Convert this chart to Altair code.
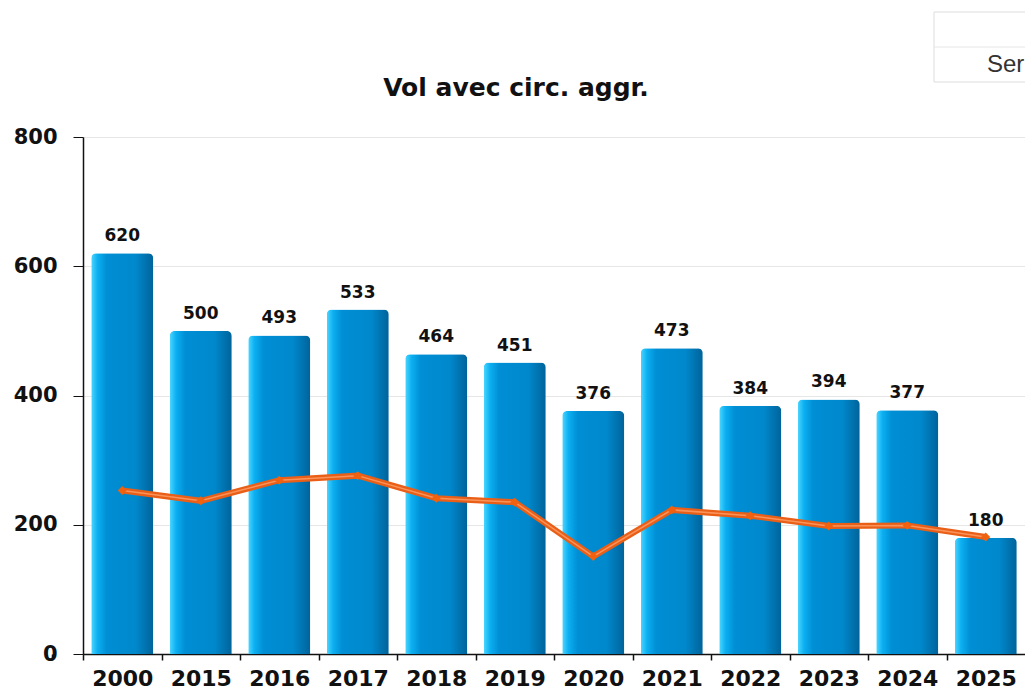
import altair as alt
import pandas as pd

years = ["2000", "2015", "2016", "2017", "2018", "2019", "2020", "2021", "2022", "2023", "2024", "2025"]
bar_values = [620, 500, 493, 533, 464, 451, 376, 473, 384, 394, 377, 180]
line_values = [253, 237, 269, 276, 241, 235, 151, 223, 214, 198, 199, 181]
y_ticks = [0, 200, 400, 600, 800]
title_text = "Vol avec circ. aggr."
legend_text = "Series"

df = pd.DataFrame({"year": years, "value": bar_values, "line": line_values})
FONT = "DejaVu Sans"

x_enc = alt.X("year:N", sort=years, title=None,
              scale=alt.Scale(paddingInner=0.21, paddingOuter=0.105),
              axis=alt.Axis(labelAngle=0, labelFont=FONT, labelFontWeight="bold",
                            labelFontSize=22, labelColor="#111", labelPadding=8,
                            tickOffset=-39, labelOffset=39, tickExtra=True,
                            tickSize=6, tickColor="#111", tickWidth=1.5,
                            domainColor="#111", domainWidth=1.5, grid=False))
y_scale = alt.Scale(domain=[0, 800], nice=False)
y_axis = alt.Axis(values=y_ticks, labelFont=FONT, labelFontWeight="bold",
                  labelFontSize=21, labelColor="#111", labelPadding=16,
                  tickSize=10, tickColor="#111", domainColor="#111", domainWidth=1.5,
                  grid=True, gridColor="#e6e6e6", gridWidth=1)

base = alt.Chart(df)

grad = alt.Gradient(gradient="linear", x1=0, x2=1, y1=0, y2=0, stops=[
    alt.GradientStop(color="#4dd6ff", offset=0),
    alt.GradientStop(color="#0cb0f2", offset=0.1),
    alt.GradientStop(color="#008ed4", offset=0.25),
    alt.GradientStop(color="#0088cc", offset=0.72),
    alt.GradientStop(color="#00639a", offset=1),
])

bars = base.mark_bar(color=grad, cornerRadiusTopLeft=5, cornerRadiusTopRight=5).encode(
    x=x_enc,
    y=alt.Y("value:Q", scale=y_scale, axis=y_axis, title=None),
)

labels = base.mark_text(font=FONT, fontWeight="bold", fontSize=17, color="#111",
                        baseline="bottom", dy=-8).encode(
    x=alt.X("year:N", sort=years),
    y=alt.Y("value:Q", scale=y_scale),
    text="value:Q",
)

line_outer = base.mark_line(color="#e95f17", strokeWidth=6).encode(
    x=alt.X("year:N", sort=years), y=alt.Y("line:Q", scale=y_scale))
line_inner = base.mark_line(color="#ffa06a", strokeWidth=1.5, opacity=0.8).encode(
    x=alt.X("year:N", sort=years), y=alt.Y("line:Q", scale=y_scale))
points = base.mark_point(filled=True, color="#f0620f", size=80, opacity=1, shape="diamond").encode(
    x=alt.X("year:N", sort=years), y=alt.Y("line:Q", scale=y_scale))

one = alt.Chart(pd.DataFrame({"t": [legend_text], "title": [title_text]}))
legend_box = one.mark_rect(fill="white", stroke="#dddddd", strokeWidth=1).encode(
    x=alt.value(851), x2=alt.value(980), y=alt.value(-125), y2=alt.value(-55))
legend_rule = one.mark_rule(color="#e6e6e6", strokeWidth=1).encode(
    x=alt.value(851), x2=alt.value(980), y=alt.value(-90))
legend_label = one.mark_text(font="Liberation Sans", fontSize=24, color="#333",
                             align="left", baseline="middle").encode(
    x=alt.value(904), y=alt.value(-72), text="t:N")
title_mark = one.mark_text(font=FONT, fontWeight="bold", fontSize=25, color="#111",
                           align="center", baseline="middle").encode(
    x=alt.value(433), y=alt.value(-49), text="title:N")

chart = alt.layer(bars, labels, line_outer, line_inner, points,
                  legend_box, legend_rule, legend_label, title_mark).properties(
    width=942, height=517,
    autosize=alt.AutoSizeParams(type="none"),
    padding={"left": 83, "top": 137, "right": 0, "bottom": 34},
).configure_view(stroke=None)

chart.save("out.html", embed_options={"renderer": "svg", "actions": False})
